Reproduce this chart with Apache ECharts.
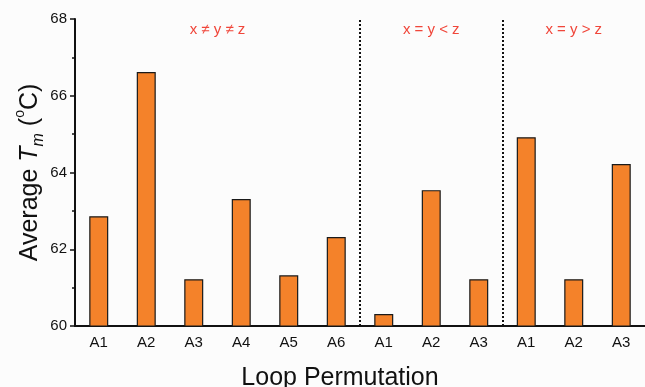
<!DOCTYPE html>
<html>
<head>
<meta charset="utf-8">
<script src="https://cdn.jsdelivr.net/npm/echarts@6/dist/echarts.min.js"></script>
<style>
  html, body { margin: 0; padding: 0; background: #fcfcfc; }
  #chart { width: 645px; height: 387px; }
</style>
</head>
<body>
<div id="chart"></div>
<script>
// loop permutations, grouped by relation of x, y, z
const categories = ["A1", "A2", "A3", "A4", "A5", "A6", "A1", "A2", "A3", "A1", "A2", "A3"];
const avgTm = [62.86, 66.62, 61.22, 63.31, 61.32, 62.32, 60.31, 63.54, 61.22, 64.92, 61.22, 64.22];
const groupNames = ["x \u2260 y \u2260 z", "x = y < z", "x = y > z"];
const groupSizes = [6, 3, 3];
const yTicks = [60, 62, 64, 66, 68];

const fontFamily = "Liberation Sans, Arial, sans-serif";

// group spans and dividers between groups (category index units)
let start = 0;
const groupAreas = [];
const dividers = [];
groupSizes.forEach((n, i) => {
  groupAreas.push([
    { xAxis: start, name: groupNames[i] },
    { xAxis: start + n - 1 }
  ]);
  start += n;
  if (i < groupSizes.length - 1) dividers.push({ xAxis: start - 0.5 });
});

const chart = echarts.init(document.getElementById("chart"));

chart.setOption({
  backgroundColor: "#fcfcfc",
  animation: false,
  grid: { left: 75, right: 0, top: 19, bottom: 61, containLabel: false, outerBoundsMode: "none" },
  xAxis: [
    {
      type: "category",
      data: categories,
      name: "Loop Permutation",
      nameLocation: "middle",
      nameGap: 40,
      nameTextStyle: { fontFamily, fontSize: 25, color: "#111", padding: [0, 40, 0, 0] },
      axisLine: { onZero: false, lineStyle: { color: "#111", width: 2 } },
      axisTick: { alignWithLabel: true, length: 5, lineStyle: { color: "#111", width: 1.5 } },
      axisLabel: { fontFamily, fontSize: 15, color: "#111", margin: 9 },
      splitLine: { show: false }
    },
    {
      type: "category",
      data: categories,
      position: "bottom",
      axisLine: { show: false, onZero: false },
      axisTick: { length: 3, lineStyle: { color: "#111", width: 1.5 } },
      axisLabel: { show: false },
      splitLine: { show: false }
    },
    {
      // hidden linear twin of the category axis, used for the group dividers
      type: "value",
      min: -0.5,
      max: categories.length - 0.5,
      show: false
    }
  ],
  yAxis: {
    type: "value",
    min: yTicks[0],
    max: yTicks[yTicks.length - 1],
    interval: 2,
    name: "{a|Average }{t|T}{s|m}{a| (}{o|o}{a|C)}",
    nameLocation: "middle",
    nameRotate: 90,
    nameGap: 28,
    nameMoveOverlap: false,
    nameTextStyle: {
      fontFamily,
      color: "#111",
      rich: {
        a: { fontFamily, fontSize: 25, color: "#111", lineHeight: 34 },
        t: { fontFamily, fontSize: 25, fontStyle: "italic", color: "#111", lineHeight: 34 },
        s: { fontFamily, fontSize: 16, fontStyle: "italic", color: "#111", lineHeight: 34, verticalAlign: "bottom" },
        o: { fontFamily, fontSize: 14, color: "#111", lineHeight: 34, verticalAlign: "top" }
      }
    },
    axisLine: { show: true, onZero: false, lineStyle: { color: "#111", width: 2 } },
    axisTick: { show: true, length: 5, lineStyle: { color: "#111", width: 1.5 } },
    minorTick: { show: true, splitNumber: 2, length: 3, lineStyle: { color: "#111", width: 1.5 } },
    axisLabel: { fontFamily, fontSize: 15, color: "#111", margin: 8 },
    splitLine: { show: false }
  },
  series: [
    {
      type: "bar",
      data: avgTm,
      barWidth: 19,
      itemStyle: { color: "#f4822a", borderColor: "#1a1a1a", borderWidth: 1.2 },
      markArea: {
        silent: true,
        itemStyle: { color: "rgba(0,0,0,0)" },
        label: {
          show: true,
          position: "insideTop",
          distance: 3,
          fontFamily,
          fontSize: 15,
          color: "#f0463a"
        },
        data: groupAreas
      }
    },
    {
      type: "line",
      xAxisIndex: 2,
      data: [],
      markLine: {
        silent: true,
        symbol: "none",
        label: { show: false },
        lineStyle: { color: "#111", type: [2, 2], width: 2 },
        data: dividers
      }
    }
  ]
});
</script>
</body>
</html>
